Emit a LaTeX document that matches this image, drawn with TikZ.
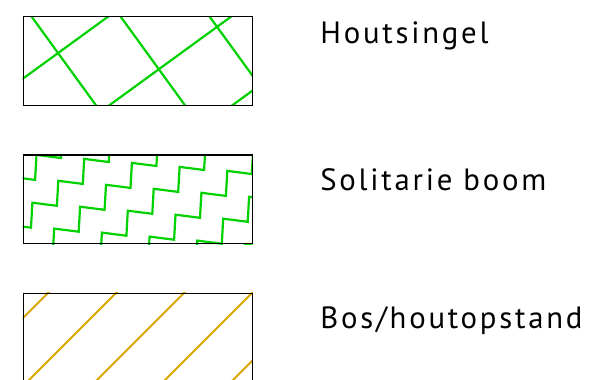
\documentclass[tikz,border=0pt]{standalone}
\usepackage{fontspec}
\setmainfont{PT Sans}[LetterSpace=9]
\usetikzlibrary{positioning,calc,backgrounds}
\definecolor{haaggroen}{RGB}{0,210,0}
\definecolor{bosoranje}{RGB}{220,165,0}

\begin{document}
\begin{tikzpicture}[x=0.02cm, y=-0.02cm, every node/.style={font=\fontsize{17.5}{19}\selectfont}]
    \tikzset{
        legendbox/.style={draw, minimum width=4.58cm, minimum height=1.772cm, inner sep=0pt, line width=0.7pt},
        groen/.style={draw=haaggroen, line width=1.25pt},
        oranje/.style={draw=bosoranje, line width=1.15pt}
    }
    \useasboundingbox (0,0) rectangle (601,379);
    % legend boxes
    \node[legendbox] (singel) at (137.8,61) {};
    \node[legendbox] (boom) at (137.8,199.2) {};
    \node[legendbox] (bos) at (137.8,337.6) {};
    \begin{scope}[on background layer]
        % Houtsingel: crossing grid
        \begin{scope}
            \clip (singel.south west) rectangle (singel.north east);
            \foreach \k in {-2,...,3} {
                \draw[groen] ({31.7+89*\k-64.3},-71.9) -- ({31.7+89*\k+128.6},193.9);
                \draw[groen] ({109.3+123*\k-121.7},193.9) -- ({109.3+123*\k+243.4},-71.9);
            }
        \end{scope}
        % Solitarie boom: staircases
        \begin{scope}
            \clip (boom.south west) rectangle (boom.north east);
            \foreach \j in {-2,...,5}
                \draw[groen] ({-72.6+47.7*\j},{315.3+4*\j})
                    \foreach \n in {1,...,13} { -- ++(1.4,-25) -- ++(24.5,3.1) };
        \end{scope}
        % Bos/houtopstand: diagonal hatch
        \begin{scope}
            \clip (bos.south west) rectangle (bos.north east);
            \foreach \k in {-1,...,4}
                \draw[oranje] ({115.7+68*\k-150},443.3) -- ({115.7+68*\k+50},243.3);
        \end{scope}
    \end{scope}
    % labels
    \node[anchor=base west, inner sep=0pt] (lsingel) at (320,43.3) {Houtsingel};
    \node[anchor=base west, inner sep=0pt] (lboom) at (320,190) {Solitarie boom};
    \node[anchor=base west, inner sep=0pt] (lbos) at (320,328) {Bos/houtopstand};
\end{tikzpicture}
\end{document}
